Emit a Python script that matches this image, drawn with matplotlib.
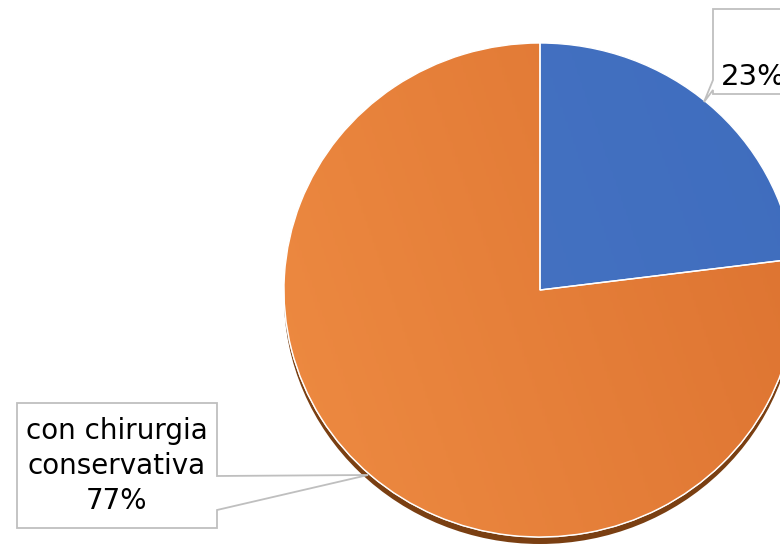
import numpy as np
import matplotlib
matplotlib.use("Agg")
import matplotlib.pyplot as plt
from matplotlib.patches import Ellipse, Polygon
from matplotlib.colors import LinearSegmentedColormap

# ---- data ----
categories = ["senza chirurgia conservativa", "con chirurgia conservativa"]
values = [23, 77]
pct_labels = ["23%", "77%"]
colors = ["#4472C4", "#E67B35"]

W, H = 780, 546
fig = plt.figure(figsize=(W / 100, H / 100), dpi=100)

# pie geometry (pixels)
cx, cy = 540, 290
rx, ry = 256, 247
k = rx / ry

ax = fig.add_axes([0, 0, 1, 1])
ax.axis("off")

def py(y):
    return (H - y) * k

# 3D rim / shadow
rim = Ellipse((cx, py(cy + 7)), 2 * rx, 2 * ry * k, facecolor="#7A3F12",
              edgecolor="none", zorder=0)
ax.add_patch(rim)

wedges, _ = ax.pie(values, colors=colors, startangle=90, counterclock=False,
                   center=(cx, py(cy)), radius=rx,
                   wedgeprops=dict(edgecolor="white", linewidth=1.0))
for w in wedges:
    w.set_zorder(2)

# subtle gradient on orange slice
cmap = LinearSegmentedColormap.from_list("org", ["#EE8B42", "#DC7230"])
gx = np.linspace(0, 1, 200)
gy = np.linspace(0, 1, 200)
GX, GY = np.meshgrid(gx, gy)
grad = 0.75 * GX + 0.25 * (1 - GY)
im = ax.imshow(grad, cmap=cmap, extent=(cx - rx, cx + rx, py(cy + ry), py(cy - ry)),
               origin="upper", aspect="auto", zorder=3)
im.set_clip_path(wedges[1])
cmapb = LinearSegmentedColormap.from_list("blu", ["#4875C4", "#3F6DBE"])
imb = ax.imshow(grad, cmap=cmapb, extent=(cx - rx, cx + rx, py(cy + ry), py(cy - ry)),
                origin="upper", aspect="auto", zorder=3)
imb.set_clip_path(wedges[0])
# white separator lines on top
for w in wedges:
    w2 = plt.matplotlib.patches.Wedge(w.center, w.r, w.theta1, w.theta2,
                                      facecolor="none", edgecolor="white",
                                      linewidth=1.0, zorder=4)
    ax.add_patch(w2)

ax.set_xlim(0, W)
ax.set_ylim(0, H * k)
ax.set_aspect("auto")

# ---- overlay for callouts (pixel coordinates) ----
ov = fig.add_axes([0, 0, 1, 1])
ov.set_xlim(0, W)
ov.set_ylim(H, 0)
ov.axis("off")
ov.patch.set_alpha(0)

box_edge = "#BFBFBF"
bl = Polygon([(17, 403), (217, 403), (217, 476), (368, 475), (217, 510),
              (217, 528), (17, 528)], closed=True, facecolor="white",
             edgecolor=box_edge, linewidth=1.3, zorder=5)
ov.add_patch(bl)
tr = Polygon([(713, 9), (820, 9), (820, 94), (713, 94), (713, 90), (704, 102),
              (713, 80)], closed=True, facecolor="white",
             edgecolor=box_edge, linewidth=1.3, zorder=5)
ov.add_patch(tr)

ov.text(117, 466, "con chirurgia\nconservativa\n" + pct_labels[1],
        ha="center", va="center", fontsize=20, family="DejaVu Sans",
        linespacing=1.3, color="black", zorder=6)
ov.text(721, 85, pct_labels[0], ha="left", va="baseline", fontsize=21,
        family="DejaVu Sans", color="black", zorder=6)

fig.savefig("out.png", dpi=100)
